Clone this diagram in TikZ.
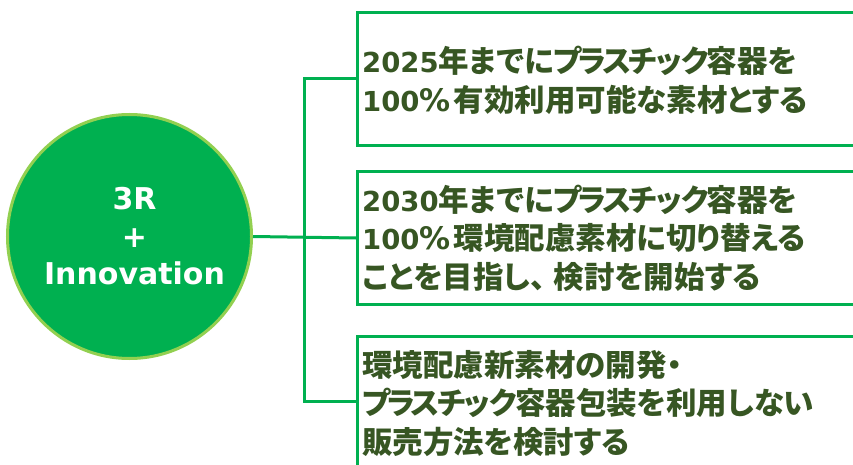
\documentclass[tikz,border=0pt]{standalone}
\usepackage{fontspec}
\newfontfamily\jp{Noto Sans CJK JP}[RawFeature=+palt]
\newfontfamily\lat{DejaVu Sans}
\definecolor{cgreen}{HTML}{00B050}
\definecolor{lgreen}{HTML}{92D050}
\definecolor{dgreen}{HTML}{375623}
\tikzset{
 conn/.style={draw=cgreen, line width=3pt},
 panel/.style={draw=cgreen, line width=3pt, rectangle, inner sep=0pt, minimum width=560pt, anchor=north west},
 paneltext/.style={anchor=west, inner sep=0pt, align=left, text=dgreen, font=\jp\bfseries\fontsize{30.5}{38.5}\selectfont},
 hub/.style={circle, fill=cgreen, draw=lgreen, line width=3pt, minimum size=244pt, inner sep=0pt},
 hubtext/.style={align=center, text=white, inner sep=0pt, font=\lat\bfseries\fontsize{30}{37.5}\selectfont},
}
\newcommand\dg[1]{{\lat\bfseries\fontsize{27.5}{38.5}\selectfont #1}}
\newcommand\pc{{\lat\bfseries\fontsize{31}{38.5}\selectfont\%}\hspace{3pt}}
\newcommand\plastic{プ\kern-3.5pt ラ\kern-3.5pt ス\kern-3pt チ\kern-1pt ッ\kern-0.5pt ク\kern-2pt }
\begin{document}
\begin{tikzpicture}[x=1pt,y=-1pt]
\useasboundingbox (0,0) rectangle (853,465);
\clip (0,0) rectangle (853,465);
\fill[white] (0,0) rectangle (853,465);
\node[hub] (c) at (129.5,236.5) {};
\node[hubtext] (ctext) at ([xshift=5pt]c.center) {3R\\+\\Innovation};
\node[panel, minimum height=133pt] (b1) at (356,11) {};
\node[panel, minimum height=133pt] (b2) at (356,170) {};
\node[panel, minimum height=130pt] (b3) at (356,335) {};
\coordinate (spine) at (304,236.5);
\draw[conn] (c.east) -- (b2.west);
\draw[conn, line join=miter] (b1.west) -| (spine) |- (b3.west);
\node[paneltext] (t1) at ([xshift=6pt,yshift=-1.5pt]b1.west) {\dg{2025}年までに\plastic 容器を\\\dg{100}\pc 有効利用可能な素材とする};
\node[paneltext] (t2) at ([xshift=6pt]b2.west) {\dg{2030}年までに\plastic 容器を\\\dg{100}\pc 環境配慮素材に切り替える\\ことを目指し、\hspace{8pt}検討を開始する};
\node[paneltext] (t3) at ([xshift=6pt,yshift=-2pt]b3.west) {環境配慮新素材の開発・\\\plastic 容器包装を利用しない\\販売方法を検討する};
\end{tikzpicture}
\end{document}
